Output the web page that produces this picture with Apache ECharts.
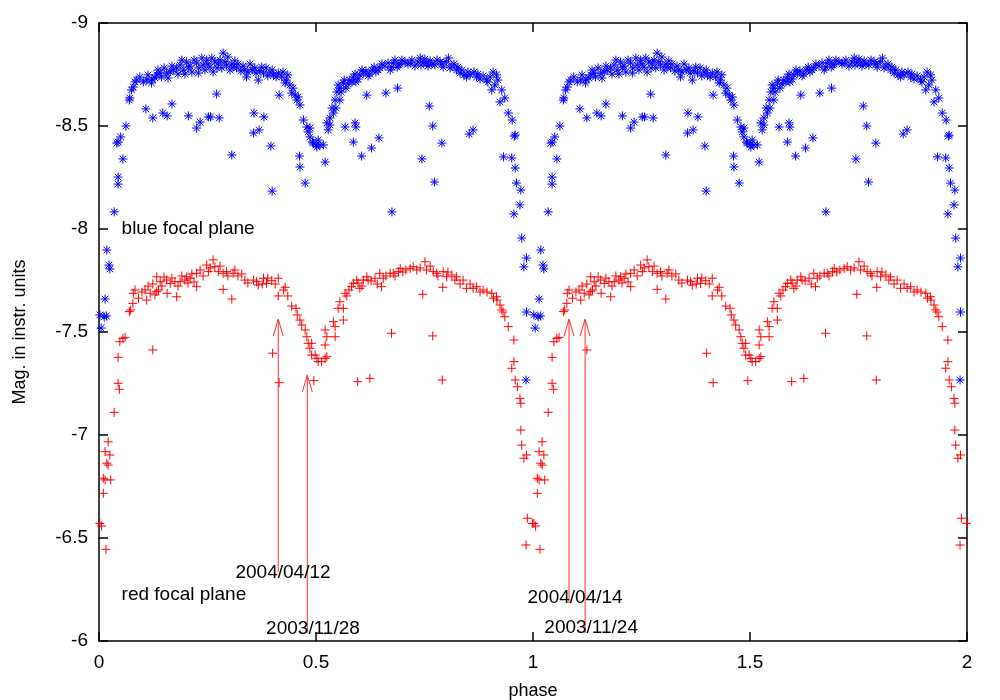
<!DOCTYPE html>
<html><head><meta charset="utf-8">
<script src="https://cdn.jsdelivr.net/npm/echarts@6/dist/echarts.min.js"></script>
<style>html,body{margin:0;padding:0;background:#fff}#chart{width:1000px;height:700px}</style>
</head><body><div id="chart"></div>
<script>
// Phased observations over one cycle [phase, magnitude]; the plot shows two cycles (phase and phase+1)
const blueObs = [
[0.002,-7.583],[0.005,-7.519],[0.012,-7.573],[0.014,-7.660],[0.017,-7.578],[0.018,-7.898],[0.023,-7.825],[0.025,-7.806],[0.035,-8.083],[0.044,-8.252],[0.044,-8.218],[0.055,-8.340],[0.044,-8.422],[0.050,-8.447],[0.041,-8.417],[0.062,-8.500],[0.070,-8.626],[0.071,-8.636],[0.079,-8.689],[0.083,-8.714],[0.075,-8.675],[0.087,-8.723],[0.102,-8.714],[0.110,-8.723],[0.121,-8.709],[0.129,-8.733],[0.133,-8.748],[0.141,-8.757],[0.144,-8.738],[0.156,-8.757],[0.164,-8.762],[0.171,-8.772],[0.179,-8.782],[0.187,-8.796],[0.194,-8.772],[0.202,-8.811],[0.206,-8.786],[0.214,-8.762],[0.225,-8.806],[0.229,-8.757],[0.240,-8.796],[0.248,-8.820],[0.256,-8.786],[0.263,-8.762],[0.267,-8.811],[0.275,-8.806],[0.286,-8.854],[0.283,-8.782],[0.294,-8.796],[0.302,-8.772],[0.309,-8.786],[0.317,-8.782],[0.336,-8.772],[0.340,-8.738],[0.359,-8.782],[0.367,-8.723],[0.375,-8.786],[0.379,-8.757],[0.394,-8.762],[0.402,-8.748],[0.413,-8.757],[0.421,-8.738],[0.432,-8.723],[0.429,-8.709],[0.444,-8.660],[0.452,-8.650],[0.456,-8.626],[0.463,-8.602],[0.471,-8.529],[0.479,-8.495],[0.482,-8.471],[0.486,-8.447],[0.492,-8.422],[0.500,-8.408],
[0.108,-8.583],[0.124,-8.539],[0.147,-8.563],[0.157,-8.549],[0.168,-8.607],[0.206,-8.549],[0.225,-8.490],[0.233,-8.519],[0.252,-8.544],[0.257,-8.544],[0.277,-8.539],[0.271,-8.655],[0.306,-8.359],[0.357,-8.563],[0.380,-8.544],[0.356,-8.466],[0.369,-8.481],[0.396,-8.403],[0.399,-8.184],[0.415,-8.650],[0.462,-8.354],[0.463,-8.301],[0.475,-8.223],
[0.486,-8.490],[0.494,-8.417],[0.502,-8.398],[0.509,-8.408],[0.517,-8.408],[0.505,-8.432],[0.521,-8.325],[0.525,-8.515],[0.528,-8.481],[0.532,-8.539],[0.540,-8.563],[0.546,-8.587],[0.555,-8.626],[0.551,-8.699],[0.558,-8.665],[0.563,-8.709],[0.569,-8.684],[0.578,-8.723],[0.586,-8.738],[0.592,-8.714],[0.601,-8.748],[0.609,-8.757],[0.620,-8.743],[0.629,-8.772],[0.638,-8.762],[0.647,-8.782],[0.659,-8.791],[0.671,-8.772],[0.678,-8.806],[0.687,-8.786],[0.694,-8.801],[0.705,-8.811],[0.717,-8.806],[0.728,-8.791],[0.740,-8.830],[0.747,-8.806],[0.755,-8.806],[0.763,-8.816],[0.774,-8.796],[0.786,-8.811],[0.793,-8.786],[0.805,-8.830],[0.813,-8.791],[0.824,-8.772],[0.832,-8.757],[0.847,-8.738],[0.855,-8.748],[0.870,-8.738],[0.878,-8.728],[0.893,-8.723],[0.901,-8.738],[0.916,-8.748],[0.905,-8.675],[0.928,-8.675],[0.924,-8.617],[0.912,-8.699],[0.943,-8.563],[0.959,-8.456],[0.932,-8.350],[0.951,-8.345],[0.959,-8.296],[0.962,-8.223],[0.972,-8.189],[0.970,-8.117],[0.956,-8.073],[0.974,-7.956],[0.985,-7.859],[0.979,-7.816],[0.985,-7.597],[0.984,-7.267],
[0.567,-8.495],[0.590,-8.515],[0.592,-8.495],[0.586,-8.422],[0.605,-8.354],[0.628,-8.393],[0.645,-8.442],[0.617,-8.650],[0.661,-8.660],[0.688,-8.684],[0.761,-8.597],[0.769,-8.500],[0.790,-8.417],[0.744,-8.340],[0.773,-8.228],[0.675,-8.083],[0.853,-8.461],[0.862,-8.481],[0.957,-8.451],
[0.094,-8.738],[0.113,-8.748],[0.122,-8.728],[0.136,-8.772],[0.150,-8.782],[0.159,-8.733],[0.168,-8.791],[0.182,-8.752],[0.191,-8.820],[0.198,-8.752],[0.210,-8.791],[0.219,-8.820],[0.230,-8.782],[0.237,-8.830],[0.244,-8.772],[0.251,-8.801],[0.260,-8.830],[0.272,-8.782],[0.279,-8.820],[0.290,-8.811],[0.297,-8.835],[0.306,-8.801],[0.313,-8.816],[0.320,-8.801],[0.327,-8.767],[0.332,-8.791],[0.343,-8.762],[0.348,-8.801],[0.353,-8.772],[0.362,-8.757],[0.371,-8.767],[0.385,-8.782],[0.389,-8.743],[0.399,-8.772],[0.408,-8.738],[0.424,-8.762],[0.435,-8.748],[0.440,-8.699],[0.447,-8.684],[0.459,-8.641],
[0.532,-8.505],[0.537,-8.587],[0.544,-8.626],[0.548,-8.665],[0.555,-8.684],[0.565,-8.723],[0.574,-8.704],[0.583,-8.714],[0.590,-8.752],[0.597,-8.728],[0.606,-8.772],[0.615,-8.767],[0.624,-8.752],[0.634,-8.786],[0.643,-8.772],[0.652,-8.801],[0.666,-8.806],[0.675,-8.786],[0.682,-8.820],[0.691,-8.796],[0.698,-8.820],[0.712,-8.801],[0.721,-8.820],[0.735,-8.811],[0.742,-8.796],[0.751,-8.825],[0.758,-8.791],[0.767,-8.801],[0.779,-8.820],[0.790,-8.801],[0.800,-8.811],[0.809,-8.782],[0.818,-8.801],[0.827,-8.786],[0.836,-8.772],[0.841,-8.748],[0.850,-8.762],[0.864,-8.762],[0.873,-8.752],[0.885,-8.743],[0.896,-8.714],[0.908,-8.762],[0.919,-8.723],[0.935,-8.636],[0.952,-8.529]
];

const redObs = [
[0.002,-6.571],[0.006,-6.558],[0.016,-6.445],[0.010,-6.717],[0.010,-6.790],[0.014,-6.782],[0.027,-6.782],[0.018,-6.863],[0.021,-6.854],[0.014,-6.919],[0.025,-6.903],[0.021,-6.967],[0.035,-7.110],[0.044,-7.251],[0.047,-7.222],[0.044,-7.377],[0.048,-7.453],[0.055,-7.469],[0.060,-7.474],[0.124,-7.413],[0.070,-7.599],[0.073,-7.607],[0.078,-7.639],[0.079,-7.688],[0.083,-7.704],[0.091,-7.664],[0.106,-7.704],[0.110,-7.655],[0.118,-7.688],[0.129,-7.680],[0.133,-7.696],[0.137,-7.704],[0.133,-7.768],[0.141,-7.744],[0.156,-7.752],[0.164,-7.736],[0.175,-7.744],[0.187,-7.744],[0.198,-7.752],[0.202,-7.768],[0.210,-7.761],[0.157,-7.688],[0.179,-7.671],[0.225,-7.720],[0.225,-7.785],[0.233,-7.801],[0.248,-7.825],[0.252,-7.793],[0.263,-7.850],[0.267,-7.817],[0.275,-7.793],[0.286,-7.785],[0.294,-7.793],[0.309,-7.785],[0.313,-7.801],[0.286,-7.707],[0.306,-7.660],[0.336,-7.752],[0.356,-7.752],[0.363,-7.744],[0.367,-7.728],[0.379,-7.761],[0.386,-7.736],[0.398,-7.749],[0.413,-7.761],[0.413,-7.675],[0.425,-7.704],[0.429,-7.717],[0.400,-7.397],[0.415,-7.254],[0.444,-7.626],[0.454,-7.615],[0.457,-7.583],[0.463,-7.558],[0.467,-7.534],[0.475,-7.510],[0.479,-7.477],[0.482,-7.445],[0.486,-7.421],[0.490,-7.388],[0.502,-7.372],[0.505,-7.356],
[0.490,-7.445],[0.498,-7.388],[0.513,-7.356],[0.521,-7.372],[0.525,-7.380],[0.495,-7.264],
[0.521,-7.510],[0.525,-7.477],[0.521,-7.437],[0.540,-7.550],[0.544,-7.526],[0.544,-7.477],[0.563,-7.558],[0.551,-7.615],[0.555,-7.647],[0.563,-7.615],[0.567,-7.688],[0.582,-7.720],[0.586,-7.736],[0.594,-7.752],[0.601,-7.712],[0.609,-7.752],[0.617,-7.768],[0.620,-7.752],[0.636,-7.761],[0.647,-7.785],[0.651,-7.720],[0.655,-7.761],[0.671,-7.785],[0.678,-7.785],[0.690,-7.793],[0.694,-7.809],[0.717,-7.809],[0.724,-7.817],[0.732,-7.801],[0.751,-7.841],[0.755,-7.801],[0.770,-7.793],[0.778,-7.785],[0.793,-7.793],[0.801,-7.768],[0.813,-7.777],[0.824,-7.768],[0.839,-7.752],[0.847,-7.712],[0.862,-7.712],[0.870,-7.720],[0.885,-7.704],[0.905,-7.688],[0.909,-7.664],[0.916,-7.671],[0.924,-7.631],[0.928,-7.607],[0.935,-7.574],[0.943,-7.526],
[0.746,-7.683],[0.792,-7.717],[0.674,-7.494],[0.769,-7.481],[0.596,-7.259],[0.624,-7.275],[0.791,-7.267],
[0.956,-7.461],[0.956,-7.356],[0.951,-7.324],[0.959,-7.267],[0.964,-7.234],[0.970,-7.178],[0.972,-7.154],[0.972,-7.024],[0.974,-6.951],[0.985,-6.903],[0.979,-6.887],[0.987,-6.596],[0.999,-6.571],[0.984,-6.466],
[0.099,-7.694],[0.113,-7.723],[0.124,-7.733],[0.145,-7.723],[0.150,-7.767],[0.168,-7.762],[0.182,-7.723],[0.191,-7.772],[0.205,-7.738],[0.214,-7.782],[0.219,-7.743],[0.240,-7.772],[0.256,-7.811],[0.279,-7.820],[0.297,-7.772],[0.320,-7.772],[0.329,-7.782],[0.343,-7.738],[0.376,-7.733],[0.389,-7.762],[0.406,-7.733],[0.435,-7.675],
[0.571,-7.675],[0.576,-7.704],[0.597,-7.738],[0.606,-7.723],[0.627,-7.748],[0.641,-7.733],[0.661,-7.772],[0.682,-7.772],[0.700,-7.791],[0.707,-7.801],[0.740,-7.811],[0.763,-7.820],[0.781,-7.772],[0.804,-7.791],[0.820,-7.752],[0.832,-7.733],[0.855,-7.733],[0.878,-7.694],[0.894,-7.694],[0.917,-7.655],[0.931,-7.597]
];

// arrows: [phase, tip magnitude, base magnitude]
const arrows = [[0.413,-7.562,-6.336],[0.480,-7.291,-6.040],[1.083,-7.562,-6.183],[1.120,-7.562,-6.037]];
// text annotations
const annotations = [
  {text:'2004/04/12', phase:0.424, mag:-6.330, align:'center'},
  {text:'2003/11/28', phase:0.493, mag:-6.058, align:'center'},
  {text:'2004/04/14', phase:1.097, mag:-6.209, align:'center'},
  {text:'2003/11/24', phase:1.134, mag:-6.063, align:'center'},
  {text:'blue focal plane', phase:0.052, mag:-8.000, align:'left'},
  {text:'red focal plane', phase:0.052, mag:-6.223, align:'left'}
];

function twoCycles(obs){
  const out = [];
  obs.forEach(p => { out.push([p[0], p[1]]); out.push([p[0] + 1, p[1]]); });
  return out;
}

const FONT = '"Liberation Sans", Arial, Helvetica, sans-serif';
const FS = 19;
const axisCommon = {
  type: 'value',
  axisLine: {show: true, onZero: false, lineStyle: {color: '#000', width: 1.5}},
  axisTick: {show: true, inside: true, length: 9, lineStyle: {color: '#000', width: 1.5}},
  splitLine: {show: false},
  axisLabel: {color: '#000', fontSize: FS, fontFamily: FONT}
};

// marker glyphs drawn as strokes around the projected data point
const glyphs = {
  asterisk: [[-4.5,0,4.5,0],[0,-4.5,0,4.5],[-3.3,-3.3,3.3,3.3],[3.3,-3.3,-3.3,3.3]],
  plus: [[-4.5,0,4.5,0],[0,-4.5,0,4.5]]
};
function markerSeries(name, obs, glyph, color){
  return {
    type: 'custom', name: name, xAxisIndex: 0, yAxisIndex: 0, silent: true, clip: false,
    data: twoCycles(obs),
    renderItem: function (params, api) {
      const p = api.coord([api.value(0), api.value(1)]);
      return {type: 'group', children: glyphs[glyph].map(s => ({
        type: 'line',
        shape: {x1: p[0] + s[0], y1: p[1] + s[1], x2: p[0] + s[2], y2: p[1] + s[3]},
        style: {stroke: color, lineWidth: 1}
      }))};
    }
  };
}

const chart = echarts.init(document.getElementById('chart'), null, {renderer: 'canvas'});
chart.setOption({
  animation: false,
  backgroundColor: '#fff',
  grid: {left: 99, right: 33, top: 23, bottom: 59, containLabel: false, outerBoundsMode: 'none'},
  xAxis: [
    Object.assign({}, axisCommon, {min: 0, max: 2, interval: 0.5, position: 'bottom',
      axisLabel: Object.assign({}, axisCommon.axisLabel, {margin: 12, showMinLabel: true, showMaxLabel: true}),
      name: 'phase', nameLocation: 'middle', nameGap: 41,
      nameTextStyle: {color: '#000', fontSize: 18, fontFamily: FONT}}),
    Object.assign({}, axisCommon, {min: 0, max: 2, interval: 0.5, position: 'top', axisLabel: {show: false}})
  ],
  yAxis: [
    Object.assign({}, axisCommon, {min: -9, max: -6, interval: 0.5, inverse: true, position: 'left',
      axisLabel: Object.assign({}, axisCommon.axisLabel, {margin: 11, showMinLabel: true, showMaxLabel: true}),
      name: 'Mag. in instr. units', nameLocation: 'middle', nameGap: 70, nameRotate: 90,
      nameTextStyle: {color: '#000', fontSize: 18, fontFamily: FONT}}),
    Object.assign({}, axisCommon, {min: -9, max: -6, interval: 0.5, inverse: true, position: 'right', axisLabel: {show: false}})
  ],
  series: [
    markerSeries('blue focal plane', blueObs, 'asterisk', '#0000ff'),
    markerSeries('red focal plane', redObs, 'plus', '#ff0000'),
    {
      type: 'custom', xAxisIndex: 0, yAxisIndex: 0, silent: true, clip: false,
      data: arrows,
      renderItem: function (params, api) {
        const tip = api.coord([api.value(0), api.value(1)]);
        const base = api.coord([api.value(0), api.value(2)]);
        const st = {stroke: '#ff3030', lineWidth: 1, fill: null};
        return {type: 'group', children: [
          {type: 'line', shape: {x1: tip[0], y1: tip[1], x2: base[0], y2: base[1]}, style: st},
          {type: 'polyline', shape: {points: [[tip[0] - 5, tip[1] + 17], [tip[0], tip[1]], [tip[0] + 5, tip[1] + 17]]}, style: st}
        ]};
      }
    },
    {
      type: 'custom', xAxisIndex: 0, yAxisIndex: 0, silent: true, clip: false,
      data: annotations.map(a => [a.phase, a.mag]),
      renderItem: function (params, api) {
        const a = annotations[params.dataIndex];
        const p = api.coord([api.value(0), api.value(1)]);
        return {type: 'text', x: p[0], y: p[1], style: {
          text: a.text, fill: '#000', fontSize: FS, fontFamily: FONT,
          align: a.align, verticalAlign: 'middle'}};
      }
    }
  ]
});
</script></body></html>
